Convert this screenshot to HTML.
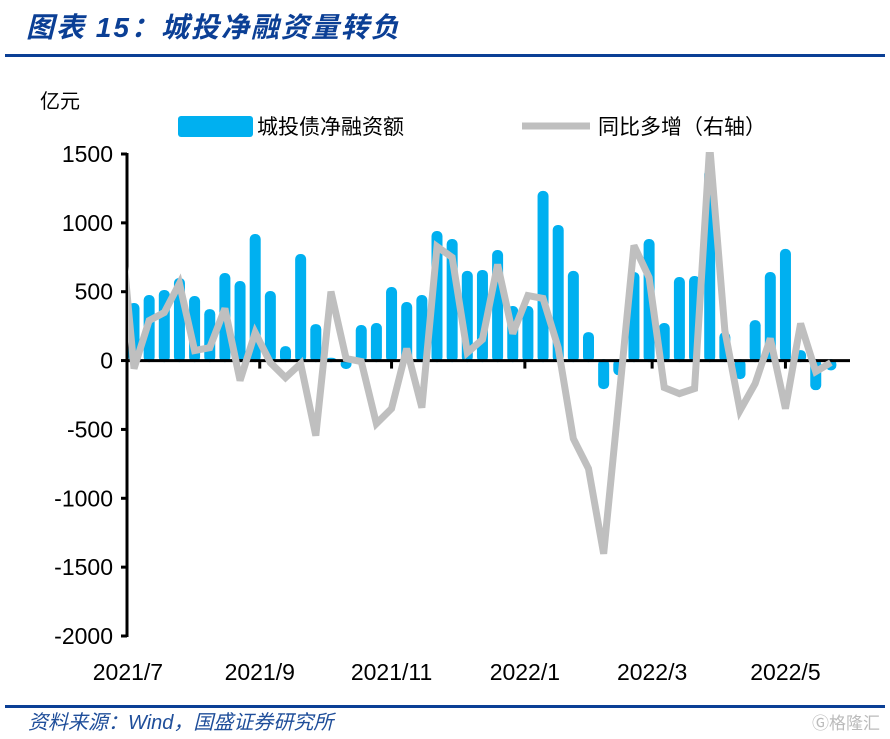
<!DOCTYPE html>
<html><head><meta charset="utf-8"><style>
body{margin:0;background:#fff;}
svg{display:block;font-family:"Liberation Sans","Noto Sans CJK SC",sans-serif;}
.tk{font-family:"Liberation Sans Narrow","Liberation Sans",sans-serif;font-size:23px;fill:#000;}
</style></head><body>
<svg id="chart" width="890" height="739" viewBox="0 0 890 739">
<text x="26" y="37" font-size="28" font-weight="bold" font-style="italic" letter-spacing="2" fill="#0B3F95" font-family="'Liberation Sans','Noto Sans CJK SC',sans-serif">图表 15：城投净融资量转负</text>
<rect x="5" y="54" width="880" height="3" fill="#0B3F95"/>
<text x="40" y="108" font-size="20" fill="#000">亿元</text>
<rect x="178" y="116" width="75" height="21" rx="3" fill="#00B0F0"/>
<text x="257" y="134" font-size="21" fill="#000">城投债净融资额</text>
<line x1="522" y1="126" x2="590" y2="126" stroke="#BFBFBF" stroke-width="7"/>
<text x="598" y="134" font-size="21" fill="#000">同比多增（右轴）</text>
<g id="yaxis"></g>
<g id="plot"></g>
<rect x="5" y="705" width="880" height="3" fill="#0B3F95"/>
<text x="28" y="729" font-size="20" font-style="italic" fill="#1F4E9A">资料来源：Wind，国盛证券研究所</text>
<text x="812" y="729" font-size="17" fill="#bbb">Ⓖ格隆汇</text>
</svg>
<script>
const barValues=[407,465,502,589,458,363,625,567,908,494,94,763,254,10,-50,247,262,523,414,465,930,872,640,647,792,385,385,1221,974,640,196,-196,-95,632,872,262,596,603,1380,196,-124,283,632,800,65,-204,-60];
const lineValues=[1126,-58,291,349,560,73,94,378,-145,203,-15,-124,-22,-545,501,15,-7,-458,-349,87,-342,828,749,58,153,698,196,472,451,94,-567,-785,-1403,-290,836,603,-196,-240,-203,1560,218,-363,-167,160,-349,269,-80,-15];
const yTicks=[1500,1000,500,0,-500,-1000,-1500,-2000];
const xLabels=['2021/7','2021/9','2021/11','2022/1','2022/3','2022/5'];
const xLabelIdx=[-0.4,8.3,17,25.8,34.2,43];
const NS='http://www.w3.org/2000/svg';
const X0=127,X1=850,Y0=154,Y1=636,VMAX=1500,VMIN=-2000;
const step=15.15,first=134;
function y(v){return Y0+(VMAX-v)*(Y1-Y0)/(VMAX-VMIN);}
function x(i){return first+i*step;}
function mk(tag,attrs,parent){const e=document.createElementNS(NS,tag);for(const k in attrs)e.setAttribute(k,attrs[k]);parent.appendChild(e);return e;}
const ya=document.getElementById('yaxis'),pl=document.getElementById('plot');
const defs=mk('defs',{},pl);
const cp=mk('clipPath',{id:'clip'},defs);
mk('rect',{x:X0+1,y:Y0-2,width:X1-X0+5,height:Y1-Y0+4},cp);
yTicks.forEach(v=>{
 const t=mk('text',{x:113,y:y(v)+8,'text-anchor':'end','class':'tk'},ya);
 
 
 t.textContent=v;
 const l=mk('line',{x1:X0-6,x2:X0,y1:y(v),y2:y(v),stroke:'#000','stroke-width':3},ya);
 
 
});
barValues.forEach((v,i)=>{
 const top=Math.min(y(v),y(0)),h=Math.max(Math.abs(y(v)-y(0)),1);
 const r=mk('rect',{x:x(i)-5.5,y:top-1.5,width:11,height:h+3,rx:5,fill:'#00B0F0'},pl);
 
 
});
const zl=mk('line',{x1:X0,x2:X1,y1:y(0),y2:y(0),stroke:'#000','stroke-width':3},pl);


const ax=mk('line',{x1:X0,x2:X0,y1:Y0-1,y2:Y1+1,stroke:'#000','stroke-width':3},pl);


xLabels.forEach((s,k)=>{
 const xx=x(xLabelIdx[k]);
 if(k>0){const tk=mk('line',{x1:xx,x2:xx,y1:y(0),y2:y(0)+8,stroke:'#000','stroke-width':3},pl);
 
 }
 const t=mk('text',{x:xx,y:680,'text-anchor':'middle','class':'tk'},pl);
 
 
 t.textContent=s;
});
const pts=lineValues.map((v,i)=>x(i-1)+','+y(v)).join(' ');
const pline=mk('polyline',{points:pts,fill:'none',stroke:'#BFBFBF','stroke-width':7,'stroke-linejoin':'miter','stroke-miterlimit':3,'clip-path':'url(#clip)'},pl);


</script>
</body></html>
